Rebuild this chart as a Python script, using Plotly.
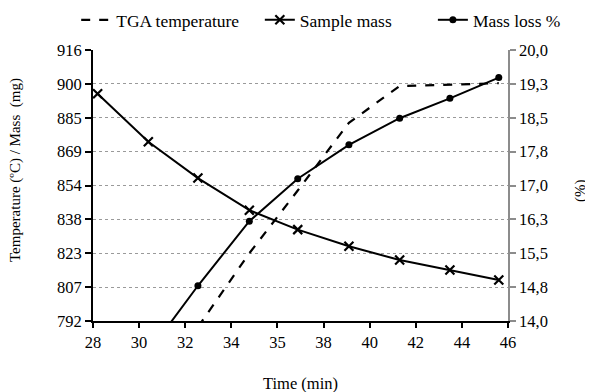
import plotly.graph_objects as go

# ---- data ----
time_min = [28.2, 30.4, 32.55, 34.78, 36.88, 39.1, 41.3, 43.48, 45.6]
tga_temperature = [721, 755, 789.2, 823, 851.7, 882.7, 899.5, 900.2, 900.8]
sample_mass = [896.0, 874.0, 857.4, 842.7, 833.8, 826.2, 819.9, 815.3, 810.8]
mass_loss_pct = [11.9, 13.3, 14.78, 16.21, 17.15, 17.9, 18.49, 18.93, 19.39]

x_tick_vals = [28, 30, 32, 34, 36, 38, 40, 42, 44, 46]
x_tick_text = ["28", "30", "32", "34", "35", "38", "40", "42", "44", "46"]
left_tick_vals = [792, 807.5, 823, 838.5, 854, 869.5, 885, 900.5, 916]
left_tick_text = ["792", "807", "823", "838", "854", "869", "885", "900", "916"]
right_tick_vals = [14, 14.75, 15.5, 16.25, 17, 17.75, 18.5, 19.25, 20]
right_tick_text = ["14,0", "14,8", "15,5", "16,3", "17,0", "17,8", "18,5", "19,3", "20,0"]

FONT = "Liberation Serif, Times New Roman, serif"
fig = go.Figure()

fig.add_trace(go.Scatter(
    x=time_min, y=tga_temperature, name="TGA temperature", mode="lines",
    line=dict(color="black", width=2.2, dash="dash"), yaxis="y", legend="legend"))
fig.add_trace(go.Scatter(
    x=time_min, y=sample_mass, name="Sample mass", mode="lines+markers",
    line=dict(color="black", width=2),
    marker=dict(symbol="x-thin", size=9, color="black", line=dict(color="black", width=2.2)),
    yaxis="y", legend="legend2"))
fig.add_trace(go.Scatter(
    x=time_min, y=mass_loss_pct, name="Mass loss %", mode="lines+markers",
    line=dict(color="black", width=2),
    marker=dict(symbol="circle", size=7, color="black"),
    yaxis="y2", legend="legend3"))

legend_common = dict(orientation="h", xanchor="left", y=1.111, yanchor="middle",
                     font=dict(family=FONT, size=17.5, color="black"),
                     bgcolor="rgba(0,0,0,0)")

# page has an 8px body margin, so the figure is drawn slightly smaller
fig.update_layout(
    width=585, height=384,
    margin=dict(l=85, r=85, t=42, b=71, autoexpand=False),
    paper_bgcolor="white", plot_bgcolor="white",
    font=dict(family=FONT, size=15, color="black"),
    showlegend=True,
    legend=dict(x=-0.0405, **legend_common),
    legend2=dict(x=0.402, **legend_common),
    legend3=dict(x=0.819, **legend_common),
    xaxis=dict(range=[28, 46], tickvals=x_tick_vals, ticktext=x_tick_text,
               showgrid=False, zeroline=False, showline=True, linecolor="black", linewidth=2,
               ticks="outside", ticklen=5, tickcolor="black", tickwidth=1.5,
               tickfont=dict(family=FONT, size=16.5)),
    yaxis=dict(range=[792, 916], tickvals=left_tick_vals, ticktext=left_tick_text,
               showgrid=True, gridcolor="#9a9a9a", griddash="dot", gridwidth=1,
               zeroline=False, showline=True, linecolor="black", linewidth=2,
               ticks="outside", ticklen=6, tickcolor="black", tickwidth=1.5,
               tickfont=dict(family=FONT, size=16.5)),
    yaxis2=dict(range=[14, 20], tickvals=right_tick_vals, ticktext=right_tick_text,
                overlaying="y", side="right", showgrid=False, zeroline=False,
                showline=True, linecolor="#8c8c8c", linewidth=1.5,
                ticks="outside", ticklen=6, tickcolor="#8c8c8c", tickwidth=1.5,
                tickprefix="\u2002",
                tickfont=dict(family=FONT, size=16.5)),
    annotations=[
        dict(text="Temperature (ºC) / Mass  (mg)", xref="paper", yref="paper",
             x=-0.188, y=0.557, xanchor="center", yanchor="middle", textangle=-90,
             showarrow=False, font=dict(family=FONT, size=15)),
        dict(text="(%)", xref="paper", yref="paper",
             x=1.173, y=0.483, xanchor="center", yanchor="middle", textangle=-90,
             showarrow=False, font=dict(family=FONT, size=15)),
        dict(text="Time (min)", xref="paper", yref="paper",
             x=0.499, y=-0.229, xanchor="center", yanchor="middle",
             showarrow=False, font=dict(family=FONT, size=16.5)),
    ],
)

fig.write_html("out.html")
